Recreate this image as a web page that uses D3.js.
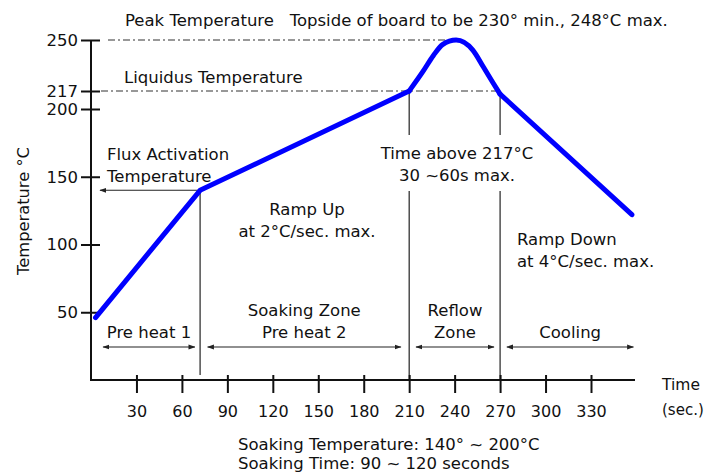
<!DOCTYPE html>
<html>
<head>
<meta charset="utf-8">
<script src="https://cdn.jsdelivr.net/npm/d3@7"></script>
<style>
  body { margin: 0; background: #fff; }
  text { font-family: "DejaVu Sans", sans-serif; fill: #111; white-space: pre; }
</style>
</head>
<body>
<script>
// reflow profile (time in s, temperature in °C)
const profileTime = [3, 58, 72, 210, 219, 226, 232, 241, 252, 259, 265.5, 270, 357];
const profileTemp = [46, 121, 140, 217, 229.5, 240, 247, 250, 243.5, 232.5, 222, 214, 122];

const timeTicks = [30, 60, 90, 120, 150, 180, 210, 240, 270, 300, 330];
const tempTicks = [50, 100, 150, 200, 217, 250];

// zone boundaries and zone arrows
const fluxTime = 72, fluxTemp = 140;
const reflowStart = 210, reflowEnd = 270;
const zoneNames = [["Pre heat 1"], ["Soaking Zone", "Pre heat 2"], ["Reflow", "Zone"], ["Cooling"]];
const zoneStart = [8, 77, 214.5, 274.5];
const zoneEnd = [68.5, 204.5, 266, 358];

const width = 715, height = 474;
const fs = 16.5;

const svg = d3.select("body").append("svg")
    .attr("width", width)
    .attr("height", height);

const x = d3.scaleLinear().domain([0, 330]).range([91, 591]);
// the picture squeezes 200-217 and stretches 217-250, so use a piecewise scale
const y = d3.scaleLinear().domain([0, 200, 217, 250]).range([380, 109, 91, 40]);

const profile = profileTime.map((t, i) => ({ t: t, v: profileTemp[i] }));

const defs = svg.append("defs");
defs.append("marker")
    .attr("id", "head")
    .attr("viewBox", "0 0 10 10")
    .attr("refX", 9).attr("refY", 5)
    .attr("markerWidth", 7).attr("markerHeight", 7)
    .attr("markerUnits", "userSpaceOnUse")
    .attr("orient", "auto-start-reverse")
    .append("path")
    .attr("d", "M0,1.5L10,5L0,8.5Z")
    .attr("fill", "#222");

// dash-dot reference lines
svg.append("line")
    .attr("x1", 108).attr("x2", x(241))
    .attr("y1", y(250)).attr("y2", y(250))
    .attr("stroke", "#777").attr("stroke-width", 1.3)
    .attr("stroke-dasharray", "7,3,2,3");
svg.append("line")
    .attr("x1", 101).attr("x2", x(reflowEnd) - 3)
    .attr("y1", y(217)).attr("y2", y(217))
    .attr("stroke", "#777").attr("stroke-width", 1.3)
    .attr("stroke-dasharray", "7,3,2,3");

// vertical zone dividers
svg.append("line")
    .attr("x1", x(fluxTime)).attr("x2", x(fluxTime))
    .attr("y1", y(fluxTemp)).attr("y2", 375)
    .attr("stroke", "#222").attr("stroke-width", 1.2);
[reflowStart, reflowEnd].forEach((t, i) => {
    const top = i === 0 ? y(217) : y(214);
    svg.append("line")
        .attr("x1", x(t)).attr("x2", x(t))
        .attr("y1", top).attr("y2", 135)
        .attr("stroke", "#222").attr("stroke-width", 1.2);
    svg.append("line")
        .attr("x1", x(t)).attr("x2", x(t))
        .attr("y1", 191).attr("y2", y(0))
        .attr("stroke", "#222").attr("stroke-width", 1.2);
});

// flux activation arrow
svg.append("line")
    .attr("x1", x(fluxTime)).attr("x2", 100)
    .attr("y1", y(fluxTemp)).attr("y2", y(fluxTemp))
    .attr("stroke", "#222").attr("stroke-width", 1.1)
    .attr("marker-end", "url(#head)");

// zone arrows
const zoneY = 347;
zoneNames.forEach((names, i) => {
    svg.append("line")
        .attr("x1", x(zoneStart[i])).attr("x2", x(zoneEnd[i]))
        .attr("y1", zoneY).attr("y2", zoneY)
        .attr("stroke", "#222").attr("stroke-width", 1.1)
        .attr("marker-start", "url(#head)")
        .attr("marker-end", "url(#head)");
    const cx = (x(zoneStart[i]) + x(zoneEnd[i])) / 2;
    const t = svg.append("text")
        .attr("text-anchor", "middle")
        .attr("font-size", fs);
    names.forEach((n, j) => {
        t.append("tspan")
            .attr("x", cx)
            .attr("y", 338 - (names.length - 1 - j) * 21.6)
            .text(n);
    });
});

// axes
const yAxis = d3.axisLeft(y).tickValues(tempTicks).tickSize(10).tickSizeOuter(0);
const gy = svg.append("g").attr("transform", "translate(91,0)").call(yAxis);
gy.select(".domain").remove();
gy.selectAll(".tick line").attr("x1", 9).attr("stroke", "#111").attr("stroke-width", 2);
gy.selectAll(".tick text")
    .attr("font-family", "DejaVu Sans, sans-serif")
    .attr("font-size", 16.5)
    .attr("fill", "#111");

const xAxis = d3.axisBottom(x).tickValues(timeTicks).tickSize(13).tickSizeOuter(0);
const gx = svg.append("g").attr("transform", "translate(0," + y(0) + ")").call(xAxis);
gx.select(".domain").remove();
gx.selectAll(".tick line").attr("y1", -5).attr("stroke", "#111").attr("stroke-width", 2);
gx.selectAll(".tick text")
    .attr("y", 26)
    .attr("font-family", "DejaVu Sans, sans-serif")
    .attr("font-size", 16)
    .attr("fill", "#111");

svg.append("path")
    .attr("d", "M91," + y(250) + "V" + y(0) + "H635")
    .attr("fill", "none")
    .attr("stroke", "#111")
    .attr("stroke-width", 2);

// the profile curve: straight ramps, smooth peak
const line = d3.line().x(d => x(d.t)).y(d => y(d.v));
const parts = [
    { data: profile.filter(d => d.t <= reflowStart), curve: d3.curveLinear },
    { data: profile.filter(d => d.t >= reflowStart && d.t <= reflowEnd), curve: d3.curveMonotoneX },
    { data: profile.filter(d => d.t >= reflowEnd), curve: d3.curveLinear }
];
parts.forEach(p => {
    svg.append("path")
        .attr("d", line.curve(p.curve)(p.data))
        .attr("fill", "none")
        .attr("stroke", "#0000ff")
        .attr("stroke-width", 5)
        .attr("stroke-linejoin", "round")
        .attr("stroke-linecap", "round");
});

// annotations
function label(lines, px, py, anchor, size, gap) {
    const t = svg.append("text")
        .attr("text-anchor", anchor || "start")
        .attr("font-size", size || fs);
    lines.forEach((s, i) => {
        t.append("tspan").attr("x", px).attr("y", py + i * (gap || 22)).text(s);
    });
    return t;
}

label(["Peak Temperature   Topside of board to be 230° min., 248°C max."], 125, 26);
label(["Liquidus Temperature"], 124, 83);
label(["Flux Activation", "Temperature"], 107, 160, "start", fs, 21.7);
label(["Ramp Up", "at 2°C/sec. max."], 307, 215, "middle", fs, 21.7);
label(["Time above 217°C", "30 ~60s max."], 457, 158.5, "middle", fs, 22.2);
label(["Ramp Down", "at 4°C/sec. max."], 517, 245, "start", fs, 22.3);
label(["Time"], 662, 389.5, "start", 15.5);
label(["(sec.)"], 662, 414.5, "start", 15);
label(["Soaking Temperature: 140° ~ 200°C", "Soaking Time: 90 ~ 120 seconds"], 238, 449.5, "start", fs, 19);

svg.append("text")
    .attr("transform", "translate(29,211) rotate(-90)")
    .attr("text-anchor", "middle")
    .attr("font-size", 16.3)
    .text("Temperature °C");
</script>
</body>
</html>
